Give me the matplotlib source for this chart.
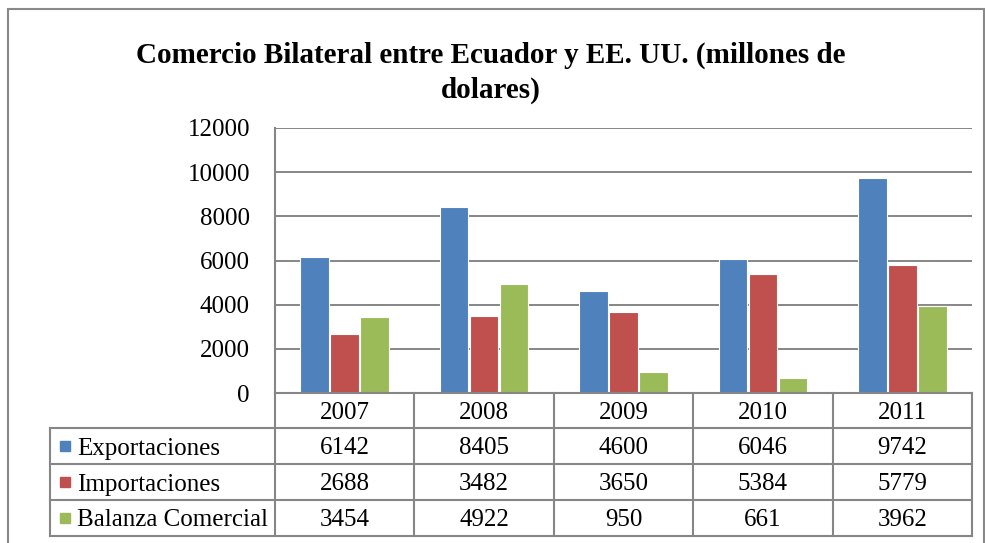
import matplotlib.pyplot as plt
from matplotlib.patches import Rectangle
from matplotlib.lines import Line2D
import numpy as np

years = ['2007', '2008', '2009', '2010', '2011']
exportaciones = [6142, 8405, 4600, 6046, 9742]
importaciones = [2688, 3482, 3650, 5384, 5779]
balanza = [3454, 4922, 950, 661, 3962]
series_names = ['Exportaciones', 'Importaciones', 'Balanza Comercial']
colors = ['#4F81BD', '#C0504D', '#9BBB59']

plt.rcParams['font.family'] = ['Liberation Serif', 'DejaVu Serif']

W, H = 985, 543
fig = plt.figure(figsize=(W / 100, H / 100), dpi=100)

def fx(px):
    return px / W

def fy(py):
    return 1 - py / H

grid_c = '#868686'
fs = 18

# outer chart border (bottom edge lies just below the picture)
fig.add_artist(Rectangle((fx(8), fy(548)), fx(984) - fx(8), fy(9) - fy(548),
                         transform=fig.transFigure, fill=False, ec='#898989', lw=1.5))

# plot area
x0, x1, ytop, ybot = 275, 972, 128, 393
ax = fig.add_axes([fx(x0), fy(ybot), fx(x1) - fx(x0), fy(ytop) - fy(ybot)])
x = np.arange(len(years))
w = 0.205
for i, vals in enumerate([exportaciones, importaciones, balanza]):
    ax.bar(x + (i - 1) * (w + 0.01), vals, width=w, color=colors[i],
           edgecolor='white', linewidth=0.8, zorder=3)
ax.set_xlim(-0.5, len(years) - 0.5)
ax.set_ylim(0, 12000)
ax.set_yticks(range(0, 12001, 2000))
ax.yaxis.grid(True, color=grid_c, lw=1.4, zorder=0)
ax.set_xticks([])
for s in ['top', 'right', 'bottom']:
    ax.spines[s].set_visible(False)
ax.spines['left'].set_color(grid_c)
ax.spines['left'].set_linewidth(1.5)
ax.tick_params(axis='y', length=0, labelsize=fs, pad=18)
for lab in ax.get_yticklabels():
    lab.set_verticalalignment('center_baseline')

# title
fig.text(fx(491), fy(52), 'Comercio Bilateral entre Ecuador y EE. UU. (millones de',
         ha='center', va='center_baseline', fontsize=21, fontweight='bold')
fig.text(fx(491), fy(87), 'dolares)', ha='center', va='center_baseline',
         fontsize=21, fontweight='bold')

# data table
rows_y = [393, 428, 464, 500, 536]
col_w = (x1 - x0) / len(years)
cols_x = [x0 + i * col_w for i in range(len(years) + 1)]
left_x = 50

def hline(y, xa, xb):
    fig.add_artist(Line2D([fx(xa), fx(xb)], [fy(y), fy(y)], transform=fig.transFigure,
                          color=grid_c, lw=1.5))

def vline(x, ya, yb):
    fig.add_artist(Line2D([fx(x), fx(x)], [fy(ya), fy(yb)], transform=fig.transFigure,
                          color=grid_c, lw=1.5))

hline(rows_y[0], x0, x1)
for y in rows_y[1:]:
    hline(y, left_x, x1)
for cx in cols_x:
    vline(cx, rows_y[0], rows_y[-1])
vline(left_x, rows_y[1], rows_y[-1])

for j, yr in enumerate(years):
    fig.text(fx(cols_x[j] + col_w / 2), fy((rows_y[0] + rows_y[1]) / 2), yr,
             ha='center', va='center_baseline', fontsize=fs)

for i, (name, vals) in enumerate(zip(series_names, [exportaciones, importaciones, balanza])):
    yc = (rows_y[i + 1] + rows_y[i + 2]) / 2
    fig.add_artist(Rectangle((fx(60), fy(yc + 5)), fx(70) - fx(60), fy(yc - 5) - fy(yc + 5),
                             transform=fig.transFigure, color=colors[i]))
    fig.text(fx(77), fy(yc), name, ha='left', va='center_baseline', fontsize=fs)
    for j, v in enumerate(vals):
        fig.text(fx(cols_x[j] + col_w / 2), fy(yc), str(v),
                 ha='center', va='center_baseline', fontsize=fs)

fig.savefig('out.png', dpi=100)
